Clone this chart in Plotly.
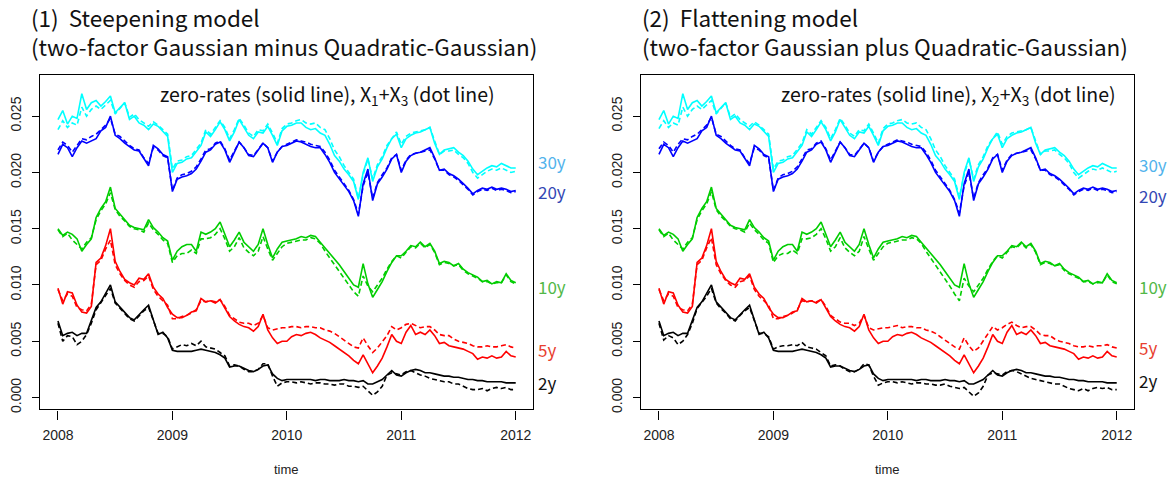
import plotly.graph_objects as go

# semi-monthly observation dates (decimal years), Jan 2008 .. Jan 2012
years = [2008 + k / 24 for k in range(97)]

maturities = ["2y", "5y", "10y", "20y", "30y"]

# zero-rates (solid lines), same in both panels
zr_2y = [.0068, .0055, .0057, .0058, .0055, .0057, .0057, .0068, .0080, .0085, .0092, .0100,
         .0085, .0080, .0076, .0071, .0069, .0074, .0078, .0082, .0070, .0056, .0058, .0053,
         .0042, .0041, .0041, .0041, .0041, .0042, .0043, .0042, .0041, .0040, .0038, .0035,
         .0027, .0028, .0028, .0026, .0024, .0023, .0025, .0028, .0029, .0021, .0017, .0015,
         .0016, .0016, .0016, .0016, .0016, .0016, .0015, .0016, .0016, .0015, .0015, .0015,
         .0016, .0015, .0015, .0014, .0015, .0012, .0012, .0014, .0016, .0020, .0024, .0020,
         .0019, .0022, .0024, .0025, .0024, .0022, .0022, .0021, .0020, .0019, .0019, .0018,
         .0018, .0017, .0016, .0016, .0015, .0015, .0014, .0014, .0014, .0014, .0013, .0013, .0013]
zr_5y = [.0097, .0083, .0094, .0093, .0082, .0076, .0075, .0081, .0120, .0124, .0135, .0150,
         .0121, .0112, .0105, .0102, .0100, .0106, .0105, .0110, .0098, .0092, .0088, .0080,
         .0074, .0071, .0071, .0073, .0076, .0077, .0088, .0085, .0086, .0084, .0087, .0080,
         .0072, .0068, .0065, .0063, .0062, .0059, .0063, .0074, .0060, .0053, .0048, .0050,
         .0050, .0054, .0056, .0055, .0057, .0058, .0056, .0053, .0051, .0049, .0046, .0043,
         .0040, .0037, .0033, .0030, .0038, .0030, .0022, .0028, .0035, .0045, .0056, .0050,
         .0048, .0058, .0064, .0056, .0058, .0056, .0060, .0055, .0048, .0049, .0046, .0045,
         .0044, .0043, .0041, .0039, .0034, .0036, .0035, .0037, .0035, .0036, .0041, .0037, .0036]
zr_10y = [.0150, .0144, .0147, .0145, .0141, .0130, .0136, .0141, .0160, .0168, .0174, .0187,
          .0168, .0163, .0159, .0153, .0151, .0150, .0149, .0158, .0151, .0147, .0142, .0139,
          .0122, .0130, .0134, .0136, .0136, .0130, .0147, .0145, .0147, .0150, .0156, .0145,
          .0134, .0140, .0147, .0138, .0134, .0130, .0136, .0150, .0136, .0124, .0132, .0138,
          .0139, .0140, .0141, .0143, .0142, .0144, .0143, .0138, .0133, .0128, .0124, .0118,
          .0112, .0106, .0100, .0098, .0119, .0101, .0089, .0096, .0103, .0112, .0120, .0126,
          .0126, .0130, .0135, .0134, .0138, .0134, .0137, .0130, .0119, .0121, .0120, .0117,
          .0119, .0114, .0111, .0109, .0107, .0103, .0104, .0101, .0103, .0102, .0110, .0104, .0102]
zr_20y = [.0216, .0225, .0222, .0214, .0222, .0228, .0226, .0228, .0230, .0237, .0240, .0250,
          .0233, .0230, .0226, .0223, .0220, .0219, .0212, .0206, .0224, .0221, .0216, .0214,
          .0183, .0194, .0196, .0197, .0199, .0203, .0210, .0218, .0220, .0225, .0227, .0220,
          .0209, .0218, .0227, .0222, .0215, .0214, .0220, .0226, .0222, .0209, .0218, .0223,
          .0224, .0226, .0228, .0227, .0225, .0223, .0222, .0222, .0216, .0209, .0200, .0194,
          .0188, .0183, .0175, .0161, .0190, .0203, .0175, .0190, .0196, .0203, .0212, .0216,
          .0200, .0210, .0215, .0217, .0218, .0220, .0222, .0213, .0202, .0203, .0199, .0197,
          .0194, .0190, .0186, .0181, .0184, .0186, .0185, .0187, .0185, .0186, .0185, .0183, .0184]
zr_30y = [.0247, .0255, .0243, .0250, .0248, .0270, .0256, .0262, .0264, .0259, .0263, .0268,
          .0253, .0258, .0262, .0247, .0250, .0244, .0242, .0238, .0243, .0241, .0236, .0232,
          .0200, .0208, .0209, .0212, .0213, .0218, .0224, .0236, .0232, .0238, .0245, .0238,
          .0228, .0236, .0247, .0240, .0233, .0230, .0236, .0235, .0241, .0233, .0224, .0237,
          .0241, .0242, .0244, .0244, .0240, .0238, .0239, .0235, .0233, .0225, .0215, .0210,
          .0203, .0198, .0192, .0176, .0200, .0213, .0192, .0205, .0212, .0222, .0230, .0234,
          .0222, .0230, .0233, .0235, .0236, .0238, .0240, .0226, .0216, .0220, .0221, .0222,
          .0218, .0215, .0210, .0203, .0198, .0201, .0204, .0206, .0205, .0208, .0206, .0204, .0204]

# steepening model X1+X3 (dot lines, panel 1)
st_2y = [.0066, .0050, .0055, .0054, .0047, .0050, .0056, .0066, .0078, .0084, .0090, .0097,
         .0084, .0079, .0075, .0070, .0068, .0073, .0077, .0080, .0069, .0057, .0057, .0054,
         .0043, .0045, .0047, .0046, .0048, .0046, .0050, .0045, .0044, .0043, .0040, .0037,
         .0028, .0029, .0028, .0025, .0023, .0023, .0025, .0030, .0030, .0019, .0010, .0013,
         .0014, .0014, .0013, .0014, .0013, .0012, .0013, .0013, .0012, .0012, .0011, .0012,
         .0012, .0010, .0010, .0009, .0010, .0006, .0002, .0005, .0010, .0020, .0022, .0021,
         .0020, .0023, .0024, .0022, .0020, .0019, .0017, .0016, .0015, .0014, .0014, .0012,
         .0012, .0010, .0008, .0007, .0007, .0008, .0006, .0008, .0009, .0008, .0009, .0007, .0007]
st_5y = [.0096, .0086, .0092, .0090, .0080, .0078, .0077, .0083, .0118, .0122, .0132, .0140,
         .0118, .0110, .0104, .0100, .0098, .0103, .0104, .0108, .0096, .0090, .0086, .0082,
         .0070, .0070, .0072, .0073, .0075, .0078, .0086, .0085, .0086, .0085, .0087, .0081,
         .0073, .0070, .0067, .0066, .0066, .0064, .0066, .0073, .0062, .0060, .0061, .0062,
         .0062, .0063, .0063, .0062, .0063, .0063, .0062, .0062, .0060, .0059, .0057, .0054,
         .0051, .0048, .0045, .0044, .0053, .0046, .0040, .0044, .0050, .0055, .0063, .0060,
         .0062, .0065, .0066, .0064, .0062, .0063, .0063, .0060, .0056, .0055, .0055, .0052,
         .0050, .0049, .0048, .0046, .0045, .0045, .0046, .0045, .0045, .0046, .0047, .0045, .0044]
st_10y = [.0149, .0143, .0146, .0140, .0136, .0132, .0138, .0142, .0158, .0166, .0172, .0182,
          .0167, .0161, .0157, .0152, .0150, .0149, .0147, .0155, .0149, .0145, .0140, .0137,
          .0120, .0126, .0128, .0128, .0131, .0128, .0141, .0141, .0142, .0145, .0150, .0141,
          .0130, .0134, .0142, .0133, .0129, .0126, .0130, .0143, .0132, .0122, .0128, .0134,
          .0137, .0138, .0139, .0140, .0140, .0142, .0141, .0137, .0130, .0124, .0119, .0112,
          .0106, .0100, .0094, .0090, .0108, .0099, .0094, .0100, .0106, .0114, .0121, .0126,
          .0124, .0129, .0134, .0133, .0137, .0133, .0136, .0129, .0118, .0120, .0119, .0117,
          .0118, .0113, .0110, .0108, .0106, .0103, .0103, .0101, .0102, .0102, .0109, .0103, .0101]
st_20y = [.0220, .0227, .0224, .0218, .0224, .0230, .0229, .0232, .0234, .0238, .0242, .0248,
          .0234, .0232, .0228, .0224, .0221, .0220, .0213, .0208, .0222, .0220, .0215, .0213,
          .0184, .0195, .0198, .0199, .0201, .0205, .0212, .0220, .0221, .0226, .0228, .0221,
          .0211, .0219, .0227, .0222, .0216, .0215, .0220, .0226, .0222, .0210, .0218, .0223,
          .0225, .0227, .0229, .0228, .0227, .0225, .0224, .0223, .0218, .0211, .0202, .0196,
          .0189, .0184, .0176, .0163, .0188, .0200, .0177, .0191, .0198, .0204, .0213, .0216,
          .0202, .0211, .0216, .0217, .0218, .0219, .0220, .0212, .0202, .0202, .0198, .0196,
          .0193, .0189, .0185, .0180, .0183, .0185, .0184, .0186, .0184, .0185, .0184, .0182, .0183]
st_30y = [.0238, .0246, .0240, .0244, .0242, .0258, .0250, .0256, .0259, .0256, .0260, .0264,
          .0252, .0257, .0262, .0249, .0252, .0247, .0244, .0241, .0245, .0242, .0238, .0234,
          .0203, .0210, .0211, .0214, .0215, .0220, .0226, .0238, .0234, .0240, .0246, .0240,
          .0230, .0238, .0248, .0242, .0235, .0232, .0238, .0237, .0243, .0235, .0226, .0239,
          .0243, .0244, .0246, .0247, .0244, .0243, .0244, .0240, .0238, .0230, .0220, .0214,
          .0206, .0200, .0194, .0177, .0198, .0212, .0194, .0207, .0214, .0224, .0230, .0236,
          .0225, .0232, .0235, .0236, .0237, .0238, .0240, .0228, .0216, .0219, .0219, .0220,
          .0216, .0213, .0208, .0200, .0195, .0198, .0201, .0203, .0202, .0204, .0202, .0200, .0201]

# flattening model X2+X3 (dot lines, panel 2)
fl_2y = [.0066, .0051, .0055, .0053, .0047, .0050, .0056, .0066, .0079, .0084, .0090, .0097,
         .0084, .0079, .0075, .0070, .0068, .0073, .0077, .0080, .0069, .0057, .0057, .0054,
         .0043, .0045, .0046, .0046, .0047, .0046, .0049, .0045, .0044, .0043, .0040, .0037,
         .0028, .0029, .0028, .0025, .0023, .0023, .0025, .0030, .0029, .0019, .0011, .0013,
         .0014, .0014, .0013, .0014, .0013, .0012, .0013, .0013, .0012, .0012, .0011, .0011,
         .0012, .0010, .0009, .0008, .0009, .0005, .0001, .0004, .0010, .0020, .0022, .0021,
         .0020, .0023, .0024, .0023, .0021, .0019, .0017, .0016, .0015, .0014, .0013, .0012,
         .0012, .0010, .0008, .0007, .0006, .0008, .0006, .0008, .0009, .0008, .0009, .0007, .0007]
fl_5y = [.0096, .0086, .0092, .0090, .0080, .0078, .0077, .0083, .0118, .0122, .0133, .0142,
         .0118, .0110, .0104, .0100, .0098, .0103, .0104, .0108, .0096, .0090, .0086, .0082,
         .0070, .0070, .0072, .0073, .0075, .0078, .0086, .0085, .0086, .0085, .0087, .0081,
         .0073, .0070, .0067, .0066, .0066, .0064, .0066, .0073, .0062, .0060, .0061, .0062,
         .0062, .0063, .0064, .0062, .0063, .0063, .0062, .0062, .0060, .0059, .0057, .0054,
         .0051, .0048, .0045, .0043, .0053, .0046, .0041, .0044, .0050, .0056, .0063, .0060,
         .0062, .0065, .0067, .0064, .0062, .0063, .0063, .0060, .0056, .0055, .0055, .0052,
         .0050, .0049, .0048, .0046, .0045, .0045, .0046, .0045, .0046, .0046, .0047, .0045, .0044]
fl_10y = [.0149, .0143, .0146, .0140, .0136, .0132, .0138, .0142, .0158, .0166, .0172, .0183,
          .0167, .0161, .0157, .0152, .0150, .0149, .0147, .0155, .0149, .0145, .0140, .0137,
          .0120, .0126, .0128, .0128, .0131, .0128, .0141, .0141, .0142, .0145, .0150, .0141,
          .0130, .0134, .0142, .0133, .0129, .0126, .0130, .0143, .0132, .0122, .0128, .0134,
          .0137, .0138, .0139, .0140, .0140, .0142, .0141, .0137, .0130, .0124, .0118, .0111,
          .0105, .0099, .0092, .0086, .0106, .0099, .0094, .0100, .0106, .0114, .0121, .0126,
          .0124, .0129, .0134, .0133, .0137, .0133, .0136, .0129, .0118, .0120, .0119, .0117,
          .0118, .0113, .0110, .0108, .0106, .0103, .0103, .0101, .0102, .0102, .0109, .0103, .0101]
fl_20y = [.0221, .0227, .0224, .0218, .0225, .0230, .0229, .0232, .0234, .0238, .0242, .0249,
          .0234, .0232, .0228, .0224, .0221, .0220, .0213, .0208, .0222, .0220, .0215, .0213,
          .0184, .0195, .0198, .0199, .0201, .0205, .0212, .0220, .0221, .0226, .0228, .0221,
          .0211, .0219, .0227, .0222, .0216, .0215, .0220, .0226, .0222, .0210, .0218, .0223,
          .0225, .0227, .0229, .0228, .0227, .0225, .0224, .0223, .0218, .0211, .0202, .0196,
          .0189, .0184, .0176, .0164, .0188, .0200, .0177, .0191, .0198, .0204, .0213, .0216,
          .0202, .0211, .0216, .0217, .0218, .0219, .0220, .0212, .0202, .0202, .0198, .0196,
          .0193, .0189, .0185, .0180, .0183, .0185, .0184, .0186, .0184, .0185, .0184, .0182, .0183]
fl_30y = [.0239, .0246, .0240, .0244, .0242, .0258, .0250, .0256, .0259, .0256, .0260, .0264,
          .0252, .0257, .0262, .0249, .0252, .0247, .0244, .0241, .0245, .0242, .0238, .0234,
          .0203, .0210, .0211, .0214, .0215, .0220, .0226, .0238, .0234, .0240, .0246, .0240,
          .0230, .0238, .0248, .0242, .0235, .0232, .0238, .0237, .0243, .0235, .0226, .0239,
          .0243, .0244, .0246, .0247, .0244, .0243, .0244, .0240, .0238, .0230, .0220, .0214,
          .0206, .0200, .0194, .0178, .0198, .0212, .0194, .0207, .0214, .0224, .0230, .0236,
          .0225, .0232, .0235, .0236, .0237, .0238, .0240, .0228, .0216, .0219, .0219, .0220,
          .0216, .0213, .0208, .0200, .0195, .0198, .0201, .0203, .0202, .0204, .0202, .0200, .0201]

zero_rates = [zr_2y, zr_5y, zr_10y, zr_20y, zr_30y]
steep = [st_2y, st_5y, st_10y, st_20y, st_30y]
flat = [fl_2y, fl_5y, fl_10y, fl_20y, fl_30y]

line_colors = ["#000000", "#ff0000", "#00cd00", "#0000ff", "#00ffff"]
label_colors = ["#111111", "#e8402f", "#52b848", "#3347b4", "#52b3ec"]

W, H = 1172, 484
TEXT_FONT = "Noto Sans CJK JP"
TICK_FONT = "Liberation Sans"


def px_x(x):
    return x / W


def px_y(y):
    return 1 - y / H


fig = go.Figure()

panels = [("x", "y", steep), ("x2", "y2", flat)]
for xa, ya, dotted in panels:
    for i, m in enumerate(maturities):
        fig.add_trace(go.Scatter(x=years, y=zero_rates[i], mode="lines", xaxis=xa, yaxis=ya,
                                 line=dict(color=line_colors[i], width=1.6),
                                 showlegend=False, name=m))
        fig.add_trace(go.Scatter(x=years, y=dotted[i], mode="lines", xaxis=xa, yaxis=ya,
                                 line=dict(color=line_colors[i], width=1.6, dash="5px,3px"),
                                 showlegend=False, name=m + " factor"))

x_ticks = [2008, 2009, 2010, 2011, 2012]
y_ticks = [0.0, 0.005, 0.010, 0.015, 0.020, 0.025]

common = dict(showline=True, linecolor="black", linewidth=1.3, mirror=True,
              ticks="outside", tickwidth=1, tickcolor="black",
              showgrid=False, zeroline=False,
              tickfont=dict(family=TICK_FONT, size=14, color="#222222"))

xdom1 = [px_x(40), px_x(533)]
xdom2 = [px_x(641), px_x(1134)]
ydom = [px_y(412), px_y(75)]

xcfg = dict(common, range=[2007.843, 2012.151], tickvals=x_ticks,
            ticktext=[str(v) for v in x_ticks], ticklen=9, ticklabelstandoff=4)
ycfg = dict(common, range=[-0.00106, 0.0287], tickvals=y_ticks,
            ticktext=["%.3f" % v for v in y_ticks], ticklen=7, tickangle=-90,
            ticklabelstandoff=5)

fig.update_layout(
    width=W, height=H,
    margin=dict(l=0, r=0, t=0, b=0),
    paper_bgcolor="white", plot_bgcolor="white",
    xaxis=dict(xcfg, domain=xdom1, anchor="y"),
    yaxis=dict(ycfg, domain=ydom, anchor="x"),
    xaxis2=dict(xcfg, domain=xdom2, anchor="y2"),
    yaxis2=dict(ycfg, domain=ydom, anchor="x2"),
)

annotations = []
titles = [
    (29, "(1)\u00a0\u00a0Steepening model<br>(two-factor Gaussian minus Quadratic-Gaussian)",
     "zero-rates (solid line), X<sub>1</sub>+X<sub>3</sub> (dot line)", 497),
    (640, "(2)\u00a0\u00a0Flattening model<br>(two-factor Gaussian plus Quadratic-Gaussian)",
     "zero-rates (solid line), X<sub>2</sub>+X<sub>3</sub> (dot line)", 1118),
]
for left, title, note, note_right in titles:
    annotations.append(dict(x=px_x(left), y=px_y(32), xref="paper", yref="paper", text=title,
                            showarrow=False, xanchor="left", yanchor="middle", align="left",
                            font=dict(family=TEXT_FONT, size=22.5, color="#111111")))
    annotations.append(dict(x=px_x(note_right), y=px_y(95), xref="paper", yref="paper",
                            text=note, showarrow=False, xanchor="right", yanchor="middle",
                            font=dict(family=TEXT_FONT, size=19.5, color="#111111")))

for center in [(40 + 533) / 2, (641 + 1134) / 2]:
    annotations.append(dict(x=px_x(center), y=px_y(472), xref="paper", yref="paper",
                            text="time", showarrow=False, xanchor="center", yanchor="middle",
                            font=dict(family=TICK_FONT, size=13, color="#222222")))

# maturity labels at the right of each panel
label_y = [[385, 352, 288, 193, 163], [383, 350, 288, 197, 166]]
for p, left in enumerate([536, 1137]):
    for i, m in enumerate(maturities):
        annotations.append(dict(x=px_x(left), y=px_y(label_y[p][i]), xref="paper", yref="paper",
                                text=m, showarrow=False, xanchor="left", yanchor="middle",
                                font=dict(family=TEXT_FONT, size=17, color=label_colors[i])))

fig.update_layout(annotations=annotations)

# drop the default page margin so the figure sits at the window's top-left corner
fig.write_html("out.html", config={"displayModeBar": False},
               post_script="document.body.style.margin='0';")
